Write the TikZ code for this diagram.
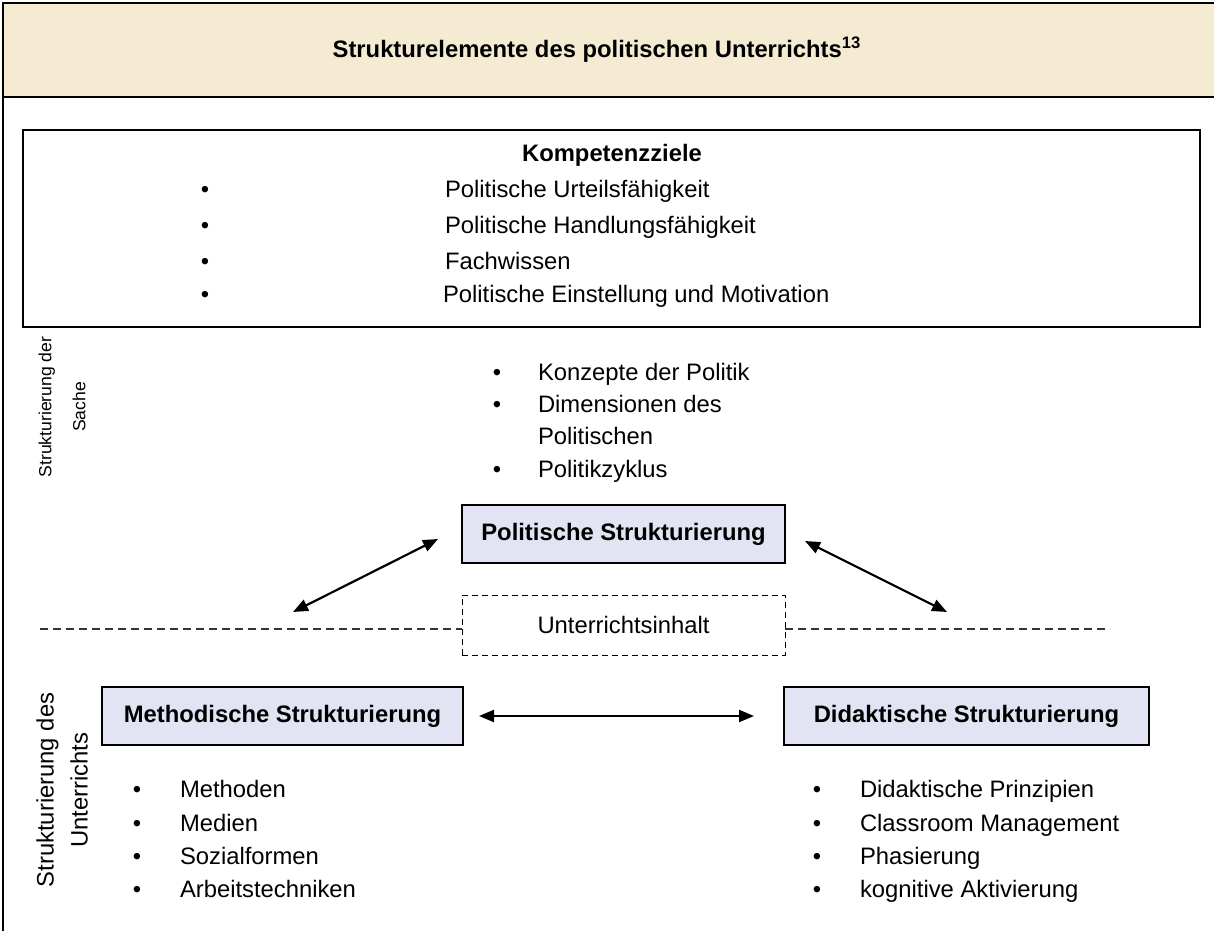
\documentclass[tikz,border=0pt]{standalone}
\usepackage{fontspec}
\setmainfont{Liberation Sans}
\usetikzlibrary{arrows.meta}
\definecolor{headbg}{HTML}{F5EBD3}
\definecolor{boxbg}{HTML}{E2E4F3}
\begin{document}
\begin{tikzpicture}[x=0.5pt,y=-0.5pt,
  every node/.style={inner sep=0pt, outer sep=0pt},
  txt/.style={font=\fontsize{11.9}{16}\selectfont, anchor=base west, align=left},
  bul/.style={font=\fontsize{11.9}{16}\selectfont, anchor=base},
  boldtxt/.style={font=\bfseries\fontsize{11.9}{16}\selectfont},
  strukbox/.style={draw=black, line width=1pt, fill=boxbg, minimum height=29pt, font=\bfseries\fontsize{11.9}{16}\selectfont},
  sidelabel/.style={rotate=90, align=center, font=\fontsize{11.9}{17}\selectfont},
  dblarrow/.style={{Triangle[length=7.5pt,width=6pt]}-{Triangle[length=7.5pt,width=6pt]}, line width=1.1pt},
  divider/.style={dash pattern=on 4pt off 2.5pt, line width=0.6pt, draw=black!80}
]
\useasboundingbox (0,0) rectangle (1214,931);
% header
\fill[headbg] (3,3) rectangle (1214,97);
\draw[line width=1.4pt] (1214,3) -- (3,3) -- (3,931);
\draw[line width=1.4pt] (3,97) -- (1214,97);
\node[boldtxt] (title) at (597,50) {Strukturelemente des politischen Unterrichts\textsuperscript{13}};
% Kompetenzziele
\node[draw=black, line width=1.2pt, minimum width=588.5pt, minimum height=98.5pt] (komp) at (611.5,228.5) {};
\node[boldtxt] (ktitle) at (612,155) {Kompetenzziele};
\node[bul] (kb1) at (205,197) {•};
\node[bul] (kb2) at (205,233) {•};
\node[bul] (kb3) at (205,269) {•};
\node[bul] (kb4) at (205,302) {•};
\node[txt] (k1) at (445,197) {Politische Urteilsfähigkeit};
\node[txt] (k2) at (445,233) {Politische Handlungsfähigkeit};
\node[txt] (k3) at (445,269) {Fachwissen};
\node[txt] (k4) at (443,302) {Politische Einstellung und Motivation};
% side labels
\node[sidelabel, font=\fontsize{8.8}{17}\selectfont] (sache) at (62,407) {Strukturierung der\\Sache};
\node[sidelabel] (unterr) at (62,790) {Strukturierung des\\Unterrichts};
% top bullets
\node[bul] (pb1) at (497,380) {•};
\node[bul] (pb2) at (497,412) {•};
\node[bul] (pb3) at (497,477) {•};
\node[txt] (p1) at (538,380) {Konzepte der Politik};
\node[txt] (p2) at (538,412) {Dimensionen des};
\node[txt] (p2b) at (538,444) {Politischen};
\node[txt] (p3) at (538,477) {Politikzyklus};
% boxes
\node[strukbox, minimum width=161.5pt] (pol) at (623.5,534) {Politische Strukturierung};
\node[draw=black, densely dashed, line width=0.5pt, minimum width=161.5pt, minimum height=30pt, font=\fontsize{11.9}{16}\selectfont] (ui) at (623.5,625) {Unterrichtsinhalt};
\node[strukbox, minimum width=180.5pt] (meth) at (282.5,716) {Methodische Strukturierung};
\node[strukbox, minimum width=182.5pt] (did) at (966.5,716) {Didaktische Strukturierung};
% divider line
\coordinate (dl) at (40,629);
\coordinate (dr) at (1110,629);
\draw[divider] (dl) -- (ui.west |- dl);
\draw[divider] (ui.east |- dr) -- (dr);
% arrows
\coordinate (la1) at (438,539);
\coordinate (la2) at (293,612);
\coordinate (ra1) at (805,541);
\coordinate (ra2) at (947,612);
\draw[dblarrow] (la1) -- (la2);
\draw[dblarrow] (ra1) -- (ra2);
\draw[dblarrow, shorten <=8pt, shorten >=15pt] (meth.east) -- (did.west);
% bottom bullets
\node[bul] (mb1) at (137,797) {•};
\node[bul] (mb2) at (137,831) {•};
\node[bul] (mb3) at (137,864) {•};
\node[bul] (mb4) at (137,897) {•};
\node[txt] (m1) at (180,797) {Methoden};
\node[txt] (m2) at (180,831) {Medien};
\node[txt] (m3) at (180,864) {Sozialformen};
\node[txt] (m4) at (180,897) {Arbeitstechniken};
\node[bul] (db1) at (817,797) {•};
\node[bul] (db2) at (817,831) {•};
\node[bul] (db3) at (817,864) {•};
\node[bul] (db4) at (817,897) {•};
\node[txt] (d1) at (860,797) {Didaktische Prinzipien};
\node[txt] (d2) at (860,831) {Classroom Management};
\node[txt] (d3) at (860,864) {Phasierung};
\node[txt] (d4) at (860,897) {kognitive Aktivierung};
\end{tikzpicture}
\end{document}
